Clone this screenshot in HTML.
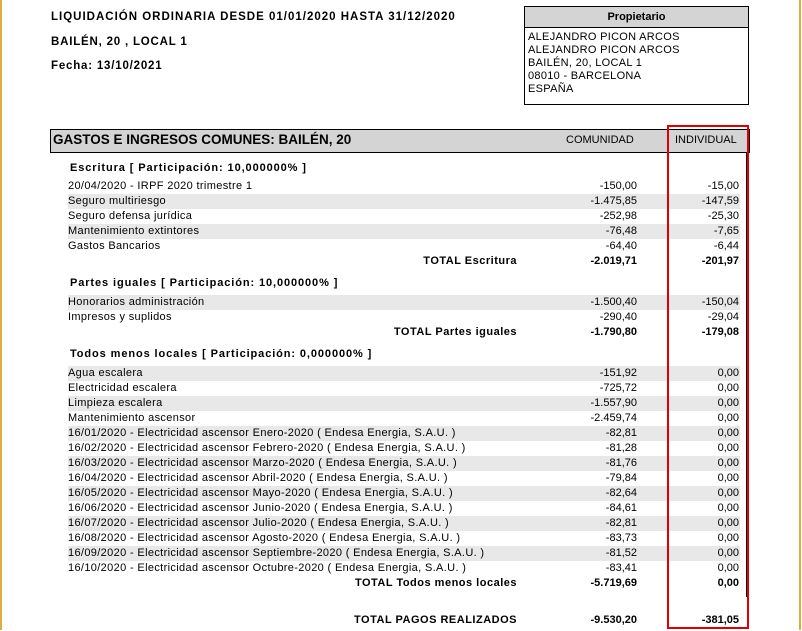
<!DOCTYPE html>
<html><head><meta charset="utf-8"><style>
body{margin:0;width:802px;height:630px;background:#fff;position:relative;overflow:hidden;font-family:"Liberation Sans",sans-serif;font-size:11px;color:#000}
.a{position:absolute;white-space:nowrap}
.b{font-weight:bold}
.h{letter-spacing:0.9px}
.r{position:absolute;left:68px;width:672px;height:15px;line-height:15px}
.g{background:#e8e8e8}
.r .t{position:absolute;left:0;letter-spacing:0.35px}
.r .c{position:absolute;right:103px}
.r .i{position:absolute;right:1px}
.tot{position:absolute;left:0;width:740px;height:15px;line-height:15px;font-weight:bold}
.tot .l{position:absolute;right:223px;letter-spacing:0.5px}
.tot .c{position:absolute;right:103px}
.tot .i{position:absolute;right:1px}
#w{position:absolute;left:0;top:1px;width:802px;height:630px}
</style></head><body>
<div class="a" style="left:0;top:0;width:2px;height:630px;background:#d8b040"></div>
<div class="a" style="left:799px;top:0;width:2px;height:630px;background:#d8b040"></div>
<div id="w">
<div class="a b" style="left:51px;top:10px;font-size:11.5px;letter-spacing:1px">LIQUIDACIÓN ORDINARIA DESDE 01/01/2020 HASTA 31/12/2020</div>
<div class="a b" style="left:51px;top:35px;font-size:11.5px;letter-spacing:0.8px">BAILÉN, 20 , LOCAL 1</div>
<div class="a b" style="left:51px;top:59px;font-size:11.5px;letter-spacing:0.8px">Fecha: 13/10/2021</div>

<div class="a" style="left:524px;top:5px;width:223px;height:97px;border:1px solid #000"></div>
<div class="a b" style="left:525px;top:6px;width:223px;height:20px;background:#d4d4d4;border-bottom:1px solid #000;text-align:center;line-height:20px">Propietario</div>
<div class="a" style="left:528px;top:30px;line-height:13px;letter-spacing:0.3px">ALEJANDRO PICON ARCOS<br>ALEJANDRO PICON ARCOS<br>BAILÉN, 20, LOCAL 1<br>08010 - BARCELONA<br>ESPAÑA</div>

<div class="a" style="left:50px;top:128px;width:698px;height:22px;background:#d4d4d4;border:1px solid #000"></div>
<div class="a b" style="left:53px;top:130px;font-size:13.5px;line-height:18px">GASTOS E INGRESOS COMUNES: BAILÉN, 20</div>
<div class="a" style="left:566px;top:133px">COMUNIDAD</div>
<div class="a" style="left:675px;top:133px">INDIVIDUAL</div>

<div class="a b h" style="left:70px;top:161px">Escritura [ Participación: 10,000000% ]</div>
<div class="r" style="top:178px"><span class="t">20/04/2020 - IRPF 2020 trimestre 1</span><span class="c">-150,00</span><span class="i">-15,00</span></div>
<div class="r g" style="top:193px"><span class="t">Seguro multiriesgo</span><span class="c">-1.475,85</span><span class="i">-147,59</span></div>
<div class="r" style="top:208px"><span class="t">Seguro defensa jurídica</span><span class="c">-252,98</span><span class="i">-25,30</span></div>
<div class="r g" style="top:223px"><span class="t">Mantenimiento extintores</span><span class="c">-76,48</span><span class="i">-7,65</span></div>
<div class="r" style="top:238px"><span class="t">Gastos Bancarios</span><span class="c">-64,40</span><span class="i">-6,44</span></div>
<div class="tot" style="top:253px"><span class="l">TOTAL Escritura</span><span class="c">-2.019,71</span><span class="i">-201,97</span></div>

<div class="a b h" style="left:70px;top:276px">Partes iguales [ Participación: 10,000000% ]</div>
<div class="r g" style="top:294px"><span class="t">Honorarios administración</span><span class="c">-1.500,40</span><span class="i">-150,04</span></div>
<div class="r" style="top:309px"><span class="t">Impresos y suplidos</span><span class="c">-290,40</span><span class="i">-29,04</span></div>
<div class="tot" style="top:324px"><span class="l">TOTAL Partes iguales</span><span class="c">-1.790,80</span><span class="i">-179,08</span></div>

<div class="a b h" style="left:70px;top:347px">Todos menos locales [ Participación: 0,000000% ]</div>
<div class="r g" style="top:365px"><span class="t">Agua escalera</span><span class="c">-151,92</span><span class="i">0,00</span></div>
<div class="r" style="top:380px"><span class="t">Electricidad escalera</span><span class="c">-725,72</span><span class="i">0,00</span></div>
<div class="r g" style="top:395px"><span class="t">Limpieza escalera</span><span class="c">-1.557,90</span><span class="i">0,00</span></div>
<div class="r" style="top:410px"><span class="t">Mantenimiento ascensor</span><span class="c">-2.459,74</span><span class="i">0,00</span></div>
<div class="r g" style="top:425px"><span class="t">16/01/2020 - Electricidad ascensor Enero-2020 ( Endesa Energia, S.A.U. )</span><span class="c">-82,81</span><span class="i">0,00</span></div>
<div class="r" style="top:440px"><span class="t">16/02/2020 - Electricidad ascensor Febrero-2020 ( Endesa Energia, S.A.U. )</span><span class="c">-81,28</span><span class="i">0,00</span></div>
<div class="r g" style="top:455px"><span class="t">16/03/2020 - Electricidad ascensor Marzo-2020 ( Endesa Energia, S.A.U. )</span><span class="c">-81,76</span><span class="i">0,00</span></div>
<div class="r" style="top:470px"><span class="t">16/04/2020 - Electricidad ascensor Abril-2020 ( Endesa Energia, S.A.U. )</span><span class="c">-79,84</span><span class="i">0,00</span></div>
<div class="r g" style="top:485px"><span class="t">16/05/2020 - Electricidad ascensor Mayo-2020 ( Endesa Energia, S.A.U. )</span><span class="c">-82,64</span><span class="i">0,00</span></div>
<div class="r" style="top:500px"><span class="t">16/06/2020 - Electricidad ascensor Junio-2020 ( Endesa Energia, S.A.U. )</span><span class="c">-84,61</span><span class="i">0,00</span></div>
<div class="r g" style="top:515px"><span class="t">16/07/2020 - Electricidad ascensor Julio-2020 ( Endesa Energia, S.A.U. )</span><span class="c">-82,81</span><span class="i">0,00</span></div>
<div class="r" style="top:530px"><span class="t">16/08/2020 - Electricidad ascensor Agosto-2020 ( Endesa Energia, S.A.U. )</span><span class="c">-83,73</span><span class="i">0,00</span></div>
<div class="r g" style="top:545px"><span class="t">16/09/2020 - Electricidad ascensor Septiembre-2020 ( Endesa Energia, S.A.U. )</span><span class="c">-81,52</span><span class="i">0,00</span></div>
<div class="r" style="top:560px"><span class="t">16/10/2020 - Electricidad ascensor Octubre-2020 ( Endesa Energia, S.A.U. )</span><span class="c">-83,41</span><span class="i">0,00</span></div>
<div class="tot" style="top:575px"><span class="l">TOTAL Todos menos locales</span><span class="c">-5.719,69</span><span class="i">0,00</span></div>

<div class="tot" style="top:612px"><span class="l">TOTAL PAGOS REALIZADOS</span><span class="c">-9.530,20</span><span class="i">-381,05</span></div>

<div class="a" style="left:746px;top:151px;width:1px;height:445px;background:#000"></div>
</div>
<div class="a" style="left:667px;top:125px;width:78px;height:500px;border:2px solid #e00000"></div>
</body></html>
